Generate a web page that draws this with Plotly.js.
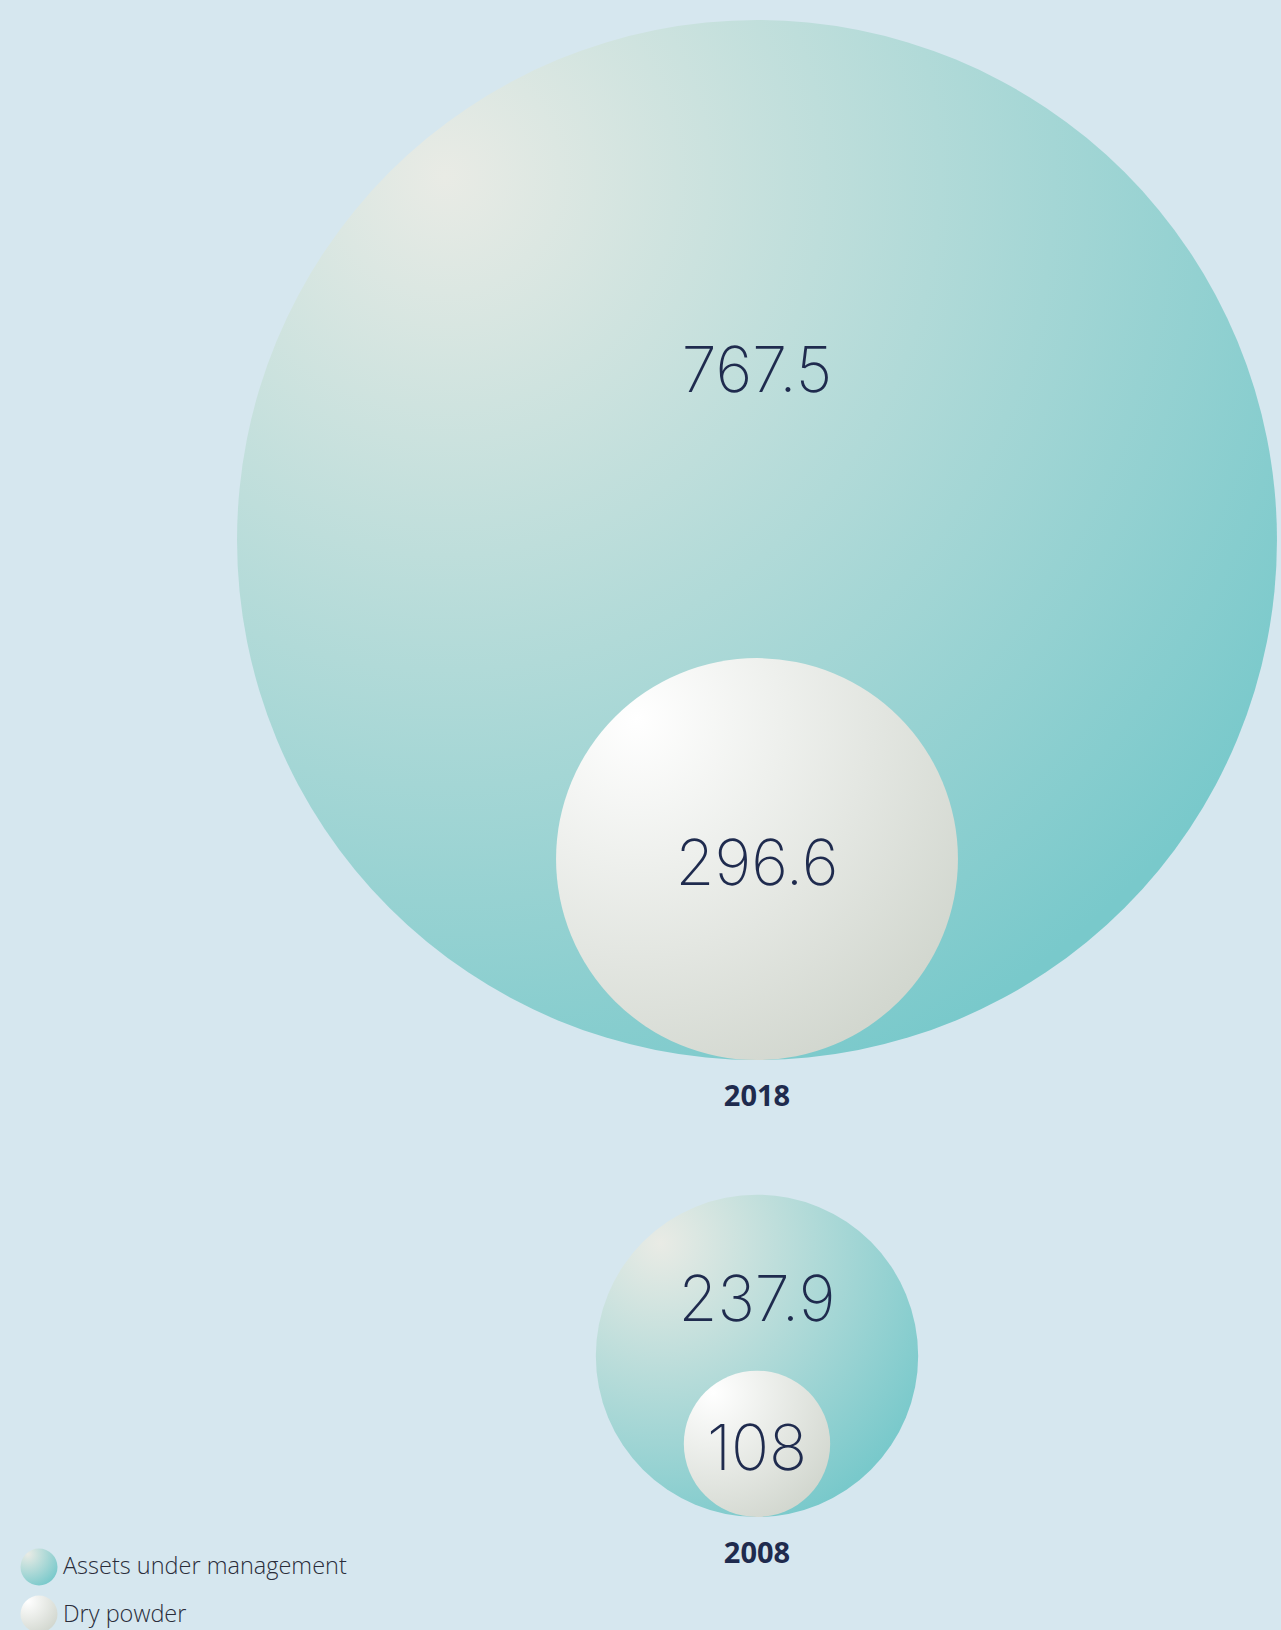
<!DOCTYPE html>
<html><head><meta charset="utf-8">
<script src="https://cdn.plot.ly/plotly-3.0.1.min.js"></script>
<style>html,body{margin:0;padding:0;background:#d6e7ef;}</style>
</head><body><div id="chart" style="width:1281px;height:1630px;"></div>
<script>
// ---- data ----
const years = ['2018', '2008'];
const assetsUnderManagement = [767.5, 237.9];
const dryPowder = [296.6, 108];
const seriesNames = ['Assets under management', 'Dry powder'];

// ---- layout helpers ----
const W = 1281, H = 1630;
const PPU = 1.355;            // pixels per value unit (diameter)
const CX_PX = 757;
const BASE_PX = [1060, 1517]; // row baselines (bottom of circles)
const toX = px => (px - CX_PX) / PPU;
const toY = px => (BASE_PX[1] - px) / PPU;
const baseline = BASE_PX.map(toY);
const xs = years.map(() => 0);
const navy = '#1f2b4e';

const aumY = assetsUnderManagement.map((v, i) => baseline[i] + v / 2);
const dpY = dryPowder.map((v, i) => baseline[i] + v / 2);
const aumLabelY = assetsUnderManagement.map((v, i) => aumY[i] + 0.315 * v / 2);
const dpLabelY = dpY.map(y => y - 10 / PPU);
const yearY = baseline.map(b => b - 39 / PPU);

const numFont = {family: 'Inter, Roboto, sans-serif', size: 63, color: navy, weight: 200};

const data = [
  {type: 'scatter', mode: 'markers', x: xs, y: aumY, name: seriesNames[0], hoverinfo: 'skip',
   marker: {size: assetsUnderManagement, sizemode: 'diameter', sizeref: 1 / PPU, color: '#79c9cb', opacity: 1,
            gradient: {type: 'radial', color: '#e9ebe5'}, line: {width: 0}}},
  {type: 'scatter', mode: 'markers', x: xs, y: dpY, name: seriesNames[1], hoverinfo: 'skip',
   marker: {size: dryPowder, sizemode: 'diameter', sizeref: 1 / PPU, color: '#d2d7cf', opacity: 1,
            gradient: {type: 'radial', color: '#ffffff'}, line: {width: 0}}},
  {type: 'scatter', mode: 'text', x: xs, y: aumLabelY, text: assetsUnderManagement.map(String),
   textposition: 'middle center', textfont: numFont, hoverinfo: 'skip'},
  {type: 'scatter', mode: 'text', x: xs, y: dpLabelY, text: dryPowder.map(String),
   textposition: 'middle center', textfont: numFont, hoverinfo: 'skip'},
  {type: 'scatter', mode: 'text', x: xs, y: yearY, text: years,
   textposition: 'middle center', textfont: {family: 'Open Sans, sans-serif', size: 29, color: navy, weight: 700}, hoverinfo: 'skip'},
  // legend
  {type: 'scatter', mode: 'markers', x: [toX(39)], y: [toY(1567)], hoverinfo: 'skip',
   marker: {size: 37, color: '#79c9cb', opacity: 1, gradient: {type: 'radial', color: '#e9ebe5'}, line: {width: 0}}},
  {type: 'scatter', mode: 'markers', x: [toX(39)], y: [toY(1614)], hoverinfo: 'skip',
   marker: {size: 37, color: '#d2d7cf', opacity: 1, gradient: {type: 'radial', color: '#ffffff'}, line: {width: 0}}},
  {type: 'scatter', mode: 'text', x: [toX(63), toX(63)], y: [toY(1568), toY(1616)], text: seriesNames,
   textposition: 'middle right', textfont: {family: 'Open Sans, sans-serif', size: 23.5, color: '#2a2d3a', weight: 300}, hoverinfo: 'skip'}
];

const layout = {
  width: W, height: H,
  margin: {l: 0, r: 0, t: 0, b: 0, pad: 0},
  paper_bgcolor: '#d6e7ef', plot_bgcolor: '#d6e7ef',
  showlegend: false,
  xaxis: {range: [toX(0), toX(W)], visible: false, fixedrange: true},
  yaxis: {range: [toY(H), toY(0)], visible: false, fixedrange: true},
  hovermode: false
};

Plotly.newPlot('chart', data, layout, {displayModeBar: false, staticPlot: true}).then(gd => {
  gd.querySelectorAll('radialGradient').forEach(g => {
    g.setAttribute('cx', '0.2'); g.setAttribute('cy', '0.15');
    g.setAttribute('fx', '0.2'); g.setAttribute('fy', '0.15');
    g.setAttribute('r', '0.95');
  });
});
</script></body></html>
